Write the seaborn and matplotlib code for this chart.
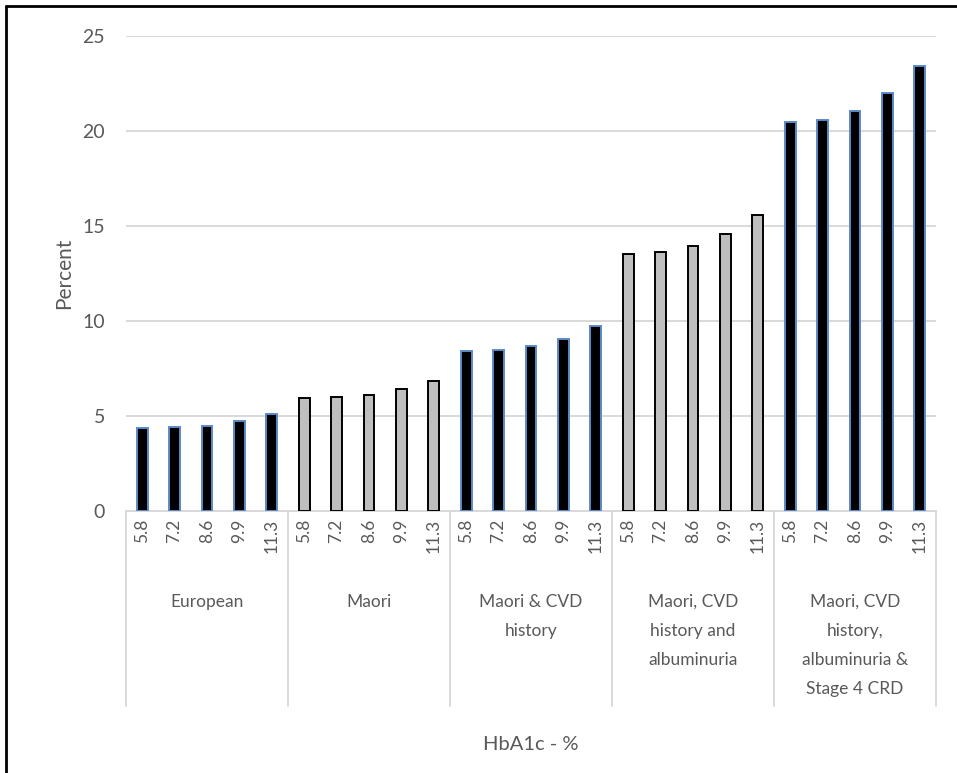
import matplotlib
matplotlib.use("Agg")
import matplotlib.pyplot as plt
from matplotlib.lines import Line2D
import matplotlib.transforms as mtransforms
import seaborn as sns
import pandas as pd

# Risk groups and HbA1c levels
groups = [
    "European",
    "Maori",
    "Maori & CVD\nhistory",
    "Maori, CVD\nhistory and\nalbuminuria",
    "Maori, CVD\nhistory,\nalbuminuria &\nStage 4 CRD",
]
hba1c_levels = ["5.8", "7.2", "8.6", "9.9", "11.3"]

# Percent values per group, one per HbA1c level
european = [4.35, 4.4, 4.47, 4.74, 5.09]
maori = [5.95, 5.96, 6.08, 6.4, 6.81]
maori_cvd = [8.39, 8.46, 8.68, 9.05, 9.74]
maori_cvd_alb = [13.53, 13.6, 13.93, 14.55, 15.56]
maori_cvd_alb_crd = [20.48, 20.54, 21.02, 21.97, 23.38]

series = [european, maori, maori_cvd, maori_cvd_alb, maori_cvd_alb_crd]

fills = ["#000000", "#BFBFBF", "#000000", "#BFBFBF", "#000000"]
edges = ["#5B8AC8", "#000000", "#5B8AC8", "#000000", "#5B8AC8"]

rows = []
for g, vals in zip(groups, series):
    for lvl, v in zip(hba1c_levels, vals):
        rows.append({"group": g, "level": lvl, "key": g + "|" + lvl, "percent": v})
df = pd.DataFrame(rows)

sns.set_theme(style="white")
plt.rcParams["font.family"] = ["Lato", "DejaVu Sans"]

W, H = 957, 773
fig = plt.figure(figsize=(W / 100, H / 100), dpi=100)
left, right, top, bottom = 126, 936, 35.7, 510.7
ax = fig.add_axes([left / W, 1 - bottom / H, (right - left) / W, (bottom - top) / H])

sns.barplot(
    data=df, x="key", y="percent", hue="group", palette=dict(zip(groups, fills)),
    dodge=False, width=0.33, legend=False, ax=ax, saturation=1,
)
keys = list(df["key"])
# outline colour follows the group
for patch in ax.patches:
    if patch.get_height() == 0:
        continue
    xc = patch.get_x() + patch.get_width() / 2
    gi = int(round(xc)) // 5
    patch.set_edgecolor(edges[gi])
    patch.set_linewidth(1.4)
    patch.set_zorder(3)

ax.set_ylim(0, 25)
ax.set_xlim(-0.5, len(keys) - 0.5)
ax.set_yticks([0, 5, 10, 15, 20, 25])
ax.yaxis.grid(True, color="#D9D9D9", linewidth=1.4)
ax.set_axisbelow(True)
for s in ["top", "right", "left"]:
    ax.spines[s].set_visible(False)
ax.spines["bottom"].set_color("#D9D9D9")
ax.spines["bottom"].set_linewidth(1.4)

ax.set_xticks(range(len(keys)))
ax.set_xticklabels([k.split("|")[1] for k in keys], rotation=90, va="top", ha="center")
ax.tick_params(axis="x", length=0, pad=6, labelsize=12.5, labelcolor="#595959")
ax.tick_params(axis="y", length=0, pad=15, labelsize=14, labelcolor="#595959")

ax.set_xlabel("")
ax.set_ylabel("Percent", fontsize=15, color="#595959", labelpad=6)

# group separators and group labels under the tick labels
trans = mtransforms.blended_transform_factory(ax.transData, ax.transAxes)
axes_h = bottom - top
sep_bottom = -(705.7 - bottom) / axes_h
for b in [-0.5, 4.5, 9.5, 14.5, 19.5, 24.5]:
    ax.add_line(Line2D([b, b], [0, sep_bottom], transform=trans, color="#D9D9D9",
                       linewidth=1.4, clip_on=False))
label_top = -(594 - bottom) / axes_h
for i, g in enumerate(groups):
    ax.text(i * 5 + 2, label_top, g, transform=trans, ha="center", va="top",
            fontsize=12.5, color="#595959", linespacing=2.0)

fig.text(531 / W, 1 - 745 / H, "HbA1c - %", ha="center", va="center",
         fontsize=14.5, color="#595959")

# chart frame
fig.add_artist(Line2D([6 / W, 6 / W], [0, 1 - 6 / H], color="black", linewidth=2))
fig.add_artist(Line2D([6 / W, 1], [1 - 6 / H, 1 - 6 / H], color="black", linewidth=2))

fig.savefig("out.png", dpi=100, facecolor="white")
